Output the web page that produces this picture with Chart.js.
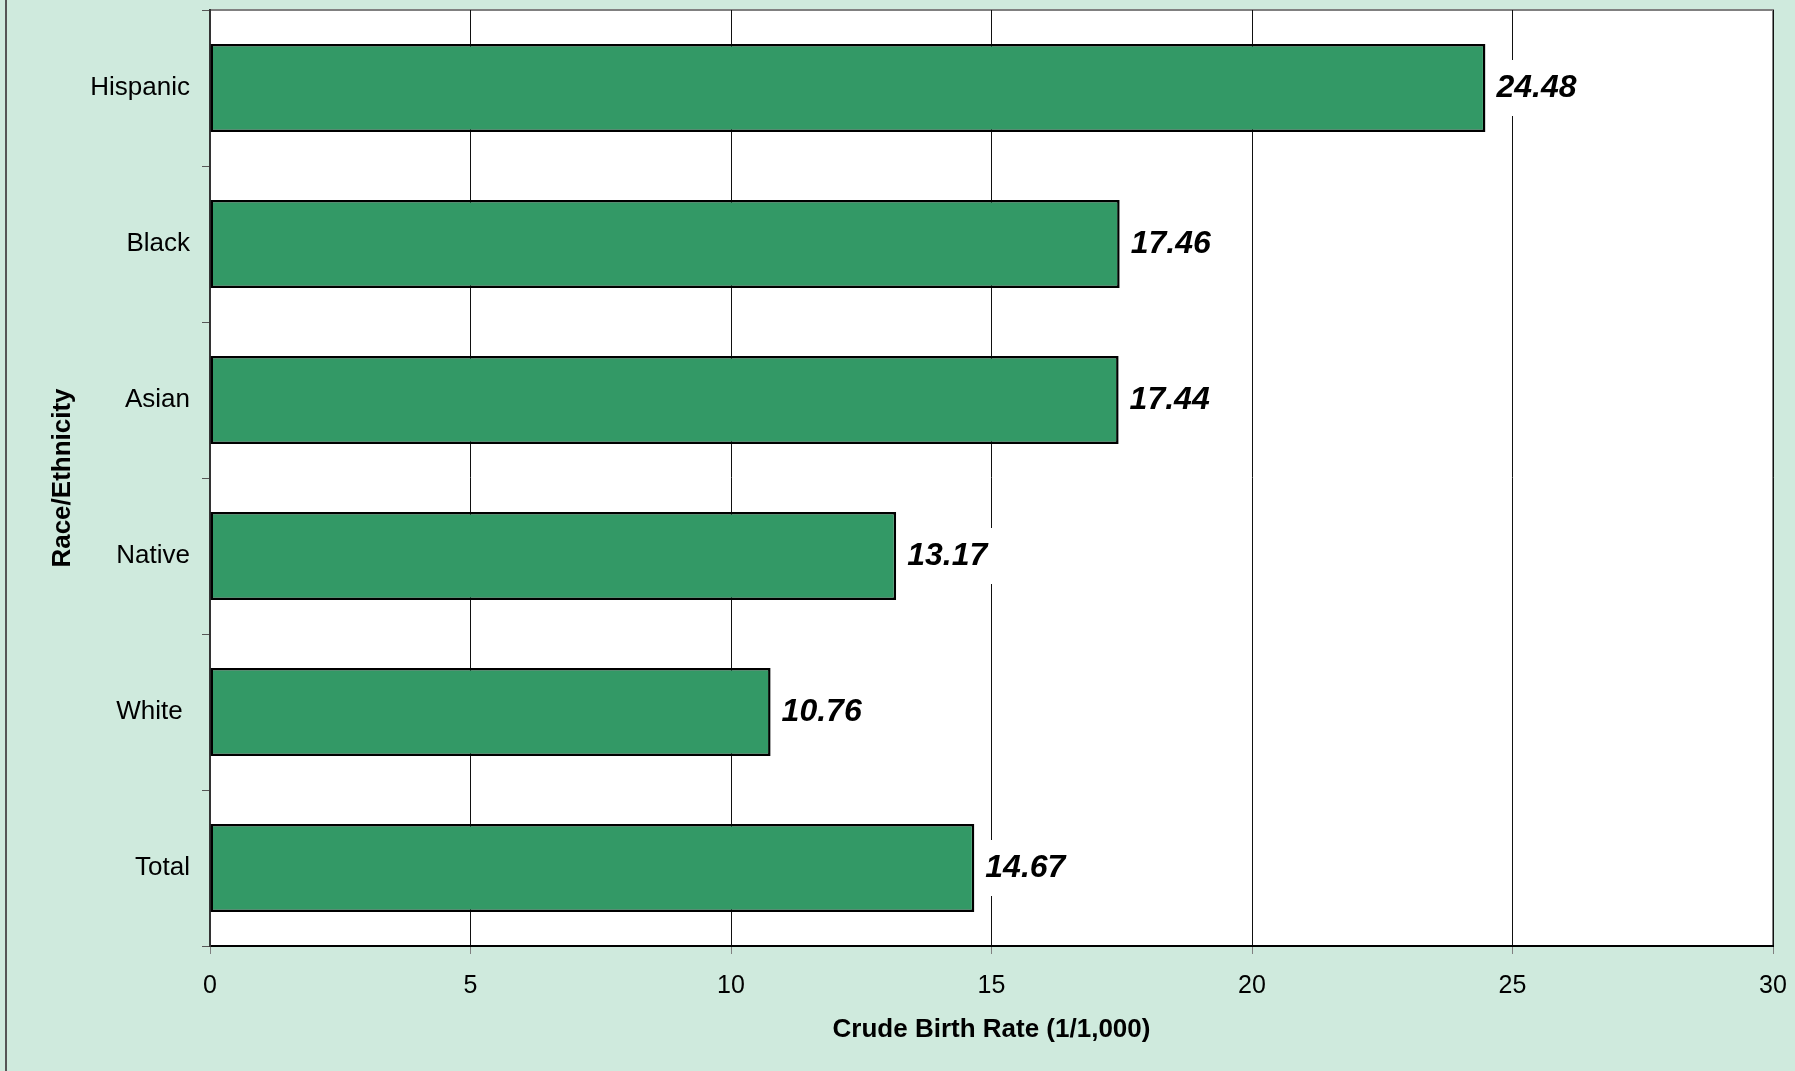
<!DOCTYPE html>
<html>
<head>
<meta charset="utf-8">
<script src="https://cdn.jsdelivr.net/npm/chart.js@4"></script>
<style>
    html, body { margin: 0; padding: 0; background: #cfeadd; }
    #wrap { position: relative; width: 1795px; height: 1071px; }
    #frame {
        position: absolute;
        left: 5px; top: 0;
        width: 2px; height: 1071px;
        background: #555;
    }
    canvas { display: block; position: absolute; left: 0; top: 0; }
</style>
</head>
<body>
<div id="wrap">
    <canvas id="birthChart" width="1795" height="1071"></canvas>
    <div id="frame"></div>
</div>
<script>
// ===== DATA =====
const categories = ['Hispanic', 'Black', 'Asian', 'Native', 'White ', 'Total'];
const birthRates = [24.48, 17.46, 17.44, 13.17, 10.76, 14.67];
const xTicks = [0, 5, 10, 15, 20, 25, 30];

const FONT = "'Liberation Sans', Arial, sans-serif";

// ===== PLOT AREA BACKGROUND + BORDER =====
const plotBackground = {
    id: 'plotBackground',
    beforeDraw(chart) {
        const { ctx, chartArea: a } = chart;
        ctx.save();
        ctx.fillStyle = '#ffffff';
        ctx.fillRect(a.left, a.top, a.right - a.left, a.bottom - a.top);
        ctx.strokeStyle = '#808080';
        ctx.lineWidth = 2;
        ctx.strokeRect(a.left, a.top, a.right - a.left, a.bottom - a.top);
        ctx.restore();
    }
};

// ===== VALUE LABELS (white box behind text) =====
const valueLabels = {
    id: 'valueLabels',
    afterDatasetsDraw(chart) {
        const { ctx } = chart;
        const meta = chart.getDatasetMeta(0);
        ctx.save();
        ctx.font = 'italic bold 32px ' + FONT;
        ctx.textBaseline = 'middle';
        ctx.textAlign = 'left';
        meta.data.forEach((bar, i) => {
            const text = birthRates[i].toFixed(2);
            const w = ctx.measureText(text).width;
            const x = bar.x + 11;
            ctx.fillStyle = '#ffffff';
            ctx.fillRect(x - 3, bar.y - 28, w + 8, 56);
            ctx.fillStyle = '#000000';
            ctx.fillText(text, x, bar.y);
        });
        ctx.restore();
    }
};

// ===== CHART =====
new Chart(document.getElementById('birthChart'), {
    type: 'bar',
    data: {
        labels: categories,
        datasets: [{
            data: birthRates,
            backgroundColor: '#339966',
            borderColor: '#000000',
            borderWidth: 2.5,
            borderSkipped: false,
            barPercentage: 1,
            categoryPercentage: 0.565
        }]
    },
    plugins: [plotBackground, valueLabels],
    options: {
        indexAxis: 'y',
        responsive: false,
        animation: false,
        layout: { padding: { top: 10, right: 22, left: 0, bottom: 0 } },
        plugins: {
            legend: { display: false },
            tooltip: { enabled: false }
        },
        scales: {
            x: {
                min: 0,
                max: 30,
                afterBuildTicks: (scale) => { scale.ticks = xTicks.map(v => ({ value: v })); },
                afterFit: (scale) => {
                    scale.height = 125;
                    scale.paddingLeft = 0;
                    scale.paddingRight = 0;
                },
                ticks: {
                    color: '#000',
                    font: { family: FONT, size: 25 },
                    padding: 17,
                    maxRotation: 0
                },
                grid: {
                    color: '#111',
                    lineWidth: 1,
                    tickLength: 8,
                    tickColor: '#808080'
                },
                border: { color: '#000', width: 2 },
                title: {
                    display: true,
                    text: 'Crude Birth Rate (1/1,000)',
                    color: '#000',
                    font: { family: FONT, size: 26, weight: 'bold' },
                    padding: { bottom: 26 }
                }
            },
            y: {
                afterFit: (scale) => {
                    scale.width = 210;
                    scale.paddingTop = 0;
                    scale.paddingBottom = 0;
                },
                ticks: {
                    color: '#000',
                    font: { family: FONT, size: 26 },
                    padding: 12
                },
                grid: {
                    drawOnChartArea: false,
                    offset: true,
                    tickLength: 8,
                    color: '#555'
                },
                border: { color: '#333', width: 2 },
                title: {
                    display: true,
                    text: 'Race/Ethnicity',
                    color: '#000',
                    font: { family: FONT, size: 26, weight: 'bold' },
                    padding: { top: 47 }
                }
            }
        }
    }
});
</script>
</body>
</html>
